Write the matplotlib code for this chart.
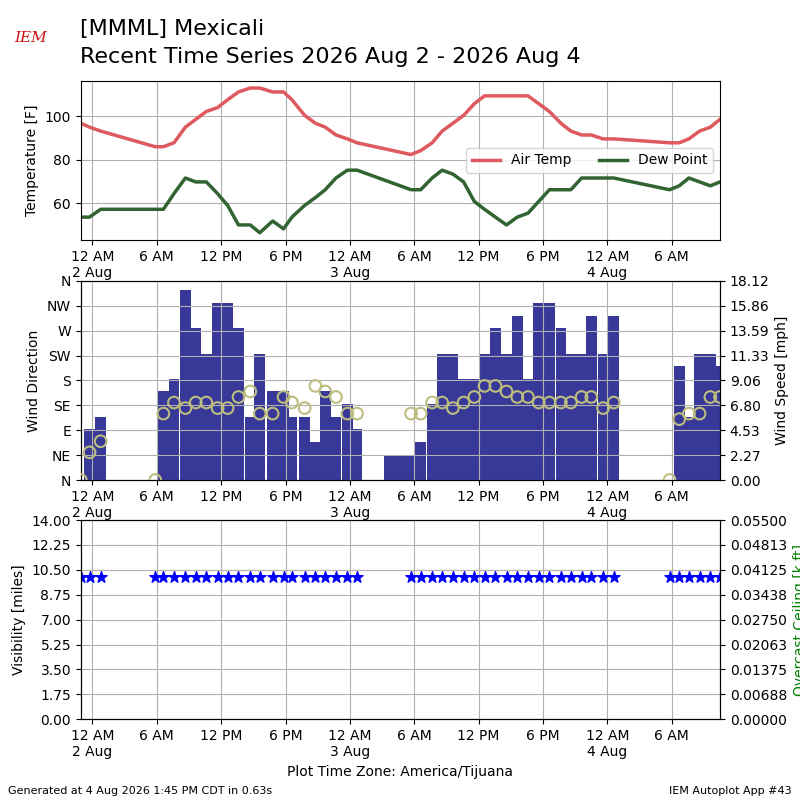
import numpy as np
import pandas as pd
import matplotlib
matplotlib.use("Agg")
import matplotlib.pyplot as plt
import matplotlib.dates as mdates
from matplotlib.ticker import FuncFormatter, FormatStrFormatter

# observations, local time (America/Tijuana)
valid = [
    "2026-08-01 22:55", "2026-08-01 23:44", "2026-08-02 00:46", "2026-08-02 05:51",
    "2026-08-02 06:37", "2026-08-02 07:36", "2026-08-02 08:40", "2026-08-02 09:38",
    "2026-08-02 10:37", "2026-08-02 11:40", "2026-08-02 12:36", "2026-08-02 13:37",
    "2026-08-02 14:43", "2026-08-02 15:36", "2026-08-02 16:48", "2026-08-02 17:49",
    "2026-08-02 18:36", "2026-08-02 19:47", "2026-08-02 20:47", "2026-08-02 21:42",
    "2026-08-02 22:42", "2026-08-02 23:46", "2026-08-03 00:40", "2026-08-03 03:42",
    "2026-08-03 04:42", "2026-08-03 05:42", "2026-08-03 06:36", "2026-08-03 07:40",
    "2026-08-03 08:36", "2026-08-03 09:36", "2026-08-03 10:36", "2026-08-03 11:36",
    "2026-08-03 12:33", "2026-08-03 13:34", "2026-08-03 14:36", "2026-08-03 15:36",
    "2026-08-03 16:36", "2026-08-03 17:36", "2026-08-03 18:36", "2026-08-03 19:40",
    "2026-08-03 20:36", "2026-08-03 21:36", "2026-08-03 22:30", "2026-08-03 23:36",
    "2026-08-04 00:36", "2026-08-04 05:48", "2026-08-04 06:42", "2026-08-04 07:36",
    "2026-08-04 08:36", "2026-08-04 09:36", "2026-08-04 10:30",
]
nan = np.nan
tmpf = [96.8, 95.0, 93.2, 86.0, 86.0, 87.8, 95.0, 98.6, 102.2, 104.0, 107.6, 111.2,
        113.0, 113.0, 111.2, 111.2, 107.6, 100.4, 96.8, 95.0, 91.4, 89.6, 87.8, nan,
        nan, 82.4, 84.2, 87.8, 93.2, 96.8, 100.4, 105.8, 109.4, 109.4, 109.4, 109.4,
        109.4, 105.8, 102.2, 96.8, 93.2, 91.4, 91.4, 89.6, 89.6, 87.8, 87.8, 89.6,
        93.2, 95.0, 98.6]
dwpf = [53.6, 53.6, 57.2, 57.2, 57.2, 64.4, 71.6, 69.8, 69.8, 64.4, 59.0, 50.0,
        50.0, 46.4, 51.8, 48.2, 53.6, 59.0, 62.6, 66.2, 71.6, 75.2, 75.2, nan,
        nan, 66.2, 66.2, 71.6, 75.2, 73.4, 69.8, 60.8, 57.2, 53.6, 50.0, 53.6,
        55.4, 60.8, 66.2, 66.2, 66.2, 71.6, 71.6, 71.6, 71.6, 66.2, 68.0, 71.6,
        69.8, 68.0, 69.8]
sknt = [0, 4, 5, 0, 7, 8, 15, 12, 10, 14, 14, 12,
        5, 10, 7, 7, 5, 5, 3, 7, 5, 6, 4, 2,
        2, 2, 3, 6, 10, 10, 8, 8, 10, 12, 10, 13,
        8, 14, 14, 12, 10, 10, 13, 10, 13, 0, 9, 5,
        10, 10, 9]
drct = [0, 50, 70, 0, 120, 140, 130, 140, 140, 130, 130, 150,
        160, 120, 120, 150, 140, 130, 170, 160, 150, 120, 120, nan,
        nan, 120, 120, 140, 140, 130, 140, 150, 170, 170, 160, 150,
        150, 140, 140, 140, 140, 150, 150, 130, 140, 0, 110, 120,
        120, 150, 150]
vsby = [10] * 23 + [nan, nan] + [10] * 26

df = pd.DataFrame({"valid": pd.to_datetime(valid), "tmpf": tmpf, "dwpf": dwpf,
                   "sknt": sknt, "drct": drct, "vsby": vsby})
df["smph"] = df["sknt"] * 1.15078

fig = plt.figure(figsize=(8, 8), dpi=100)
ax1 = fig.add_axes([0.101, 0.700, 0.799, 0.199])
ax2 = fig.add_axes([0.101, 0.400, 0.799, 0.249])
ax3 = fig.add_axes([0.101, 0.101, 0.799, 0.249])


def timefmt(x, pos=None):
    dt = mdates.num2date(x)
    if dt.hour == 0:
        return "12 AM\n%d %s" % (dt.day, dt.strftime("%b"))
    return dt.strftime("%-I %p")


xlim = (df["valid"].iloc[0], df["valid"].iloc[-1])

# temperatures
t = df.dropna(subset=["tmpf"])
ax1.plot(t["valid"], t["tmpf"], color="#de5a5f", lw=2.5, label="Air Temp")
ax1.plot(t["valid"], t["dwpf"], color="#326432", lw=2.5, label="Dew Point")
ax1.set_yticks([60, 80, 100])
ax1.set_ylabel("Temperature [F]")
ax1.legend(loc="center right", ncol=2)

# wind
ax2b = ax2.twinx()
ax2b.bar(df["valid"], df["smph"], width=1 / 24.0, color="#383898")
ymax = df["smph"].max() * 1.05
ax2b.set_ylim(0, ymax)
ax2b.set_yticks(np.linspace(0, ymax, 9))
ax2b.yaxis.set_major_formatter(FormatStrFormatter("%.2f"))
ax2b.set_ylabel("Wind Speed [mph]")
ax2.set_zorder(ax2b.get_zorder() + 1)
ax2.patch.set_visible(False)
ax2.scatter(df["valid"], df["drct"], s=70, facecolor="none",
            edgecolor="#bdbd80", lw=1.5, zorder=5)
ax2.set_ylim(0, 360)
ax2.set_yticks(range(0, 361, 45))
ax2.set_yticklabels(["N", "NE", "E", "SE", "S", "SW", "W", "NW", "N"])
ax2.set_ylabel("Wind Direction")

# visibility
ax3.scatter(df["valid"], df["vsby"], marker="*", s=70, color="b", zorder=5)
ax3.set_ylim(0, 14)
ax3.set_yticks(np.linspace(0, 14, 9))
ax3.yaxis.set_major_formatter(FormatStrFormatter("%.2f"))
ax3.set_ylabel("Visibility [miles]")
ax3b = ax3.twinx()
ax3b.set_ylim(0, 0.055)
ax3b.set_yticks(np.linspace(0, 0.055, 9))
ax3b.yaxis.set_major_formatter(FormatStrFormatter("%.5f"))
ax3b.set_ylabel("Overcast Ceiling [k ft]", color="g")
ax3.set_xlabel("Plot Time Zone: America/Tijuana")

for ax in [ax1, ax2, ax3]:
    ax.set_xlim(*xlim)
    ax.xaxis.set_major_locator(mdates.HourLocator(byhour=[0, 6, 12, 18]))
    ax.xaxis.set_major_formatter(FuncFormatter(timefmt))
    ax.grid(True)

fig.text(0.1, 0.964, "[MMML] Mexicali", fontsize=16, va="center")
fig.text(0.1, 0.929, "Recent Time Series 2026 Aug 2 - 2026 Aug 4", fontsize=16, va="center")
fig.text(0.038, 0.952, "IEM", color="#cc1111", fontsize=11, style="italic",
         family="DejaVu Serif", ha="center", va="center")
fig.text(0.01, 0.011, "Generated at 4 Aug 2026 1:45 PM CDT in 0.63s", fontsize=8, va="center")
fig.text(0.99, 0.011, "IEM Autoplot App #43", fontsize=8, ha="right", va="center")

fig.savefig("out.png")
